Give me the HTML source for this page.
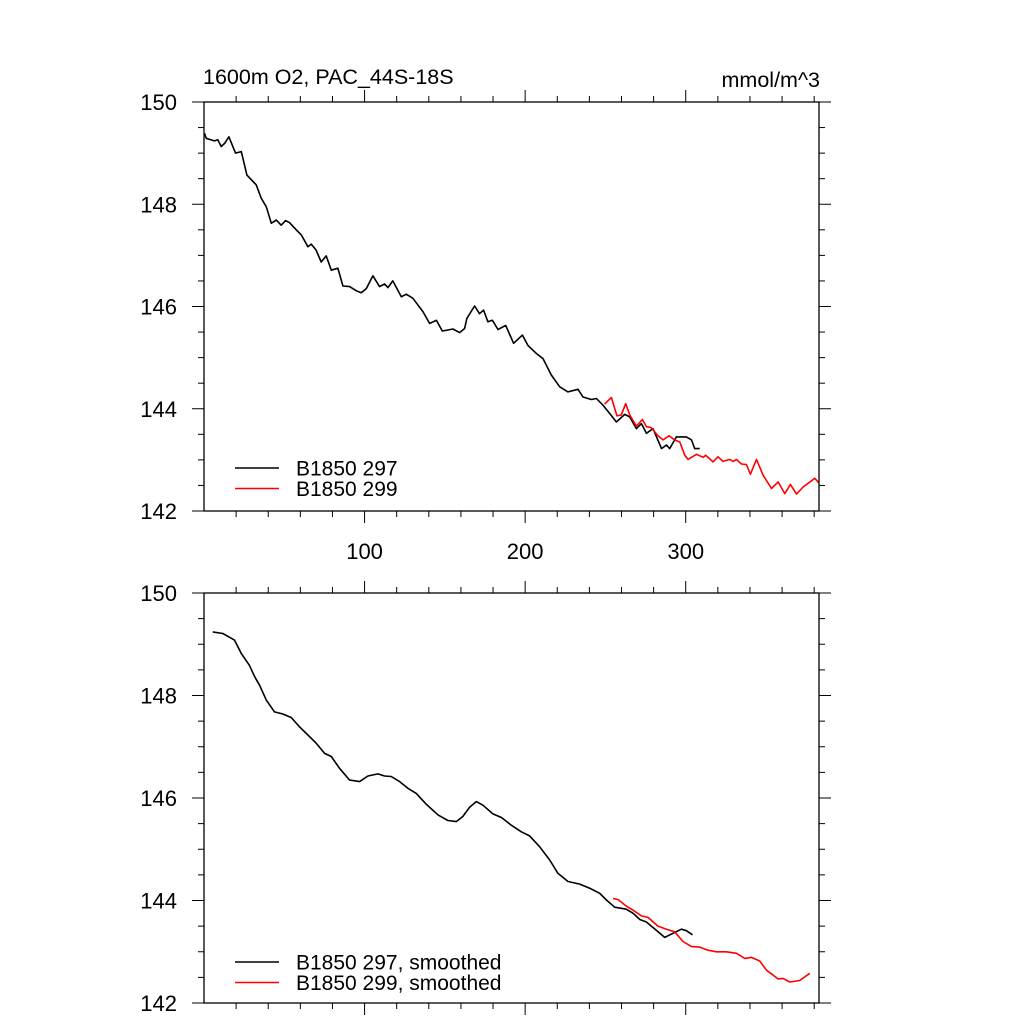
<!DOCTYPE html>
<html><head><meta charset="utf-8"><style>
html,body{margin:0;padding:0;background:#fff;}
svg{display:block;font-family:"Liberation Sans",Arial,sans-serif;}
</style></head><body>
<svg id="chart" width="1024" height="1024" xmlns="http://www.w3.org/2000/svg"></svg>
<script>
// ---- data ----
const rawYears297 = [0.3,1.4,6.5,8.6,10.7,12.8,15.5,19.6,23.2,26.7,32.5,35.6,38.8,41.9,45,48.1,50.8,53.3,57.4,60.6,64.7,66.8,69.9,73,76.1,79.3,83.4,86.5,90.7,94.8,97.9,101.1,105.2,109.3,112.5,114.5,117.6,122.9,126,130.1,136.3,140.5,144.7,148.4,151.9,155,159.2,162.3,163.7,168.5,171.6,174.1,176.8,179.6,183.1,187.9,192.8,198.3,201.7,207,211.1,216.3,221.5,226.7,232.9,236,241.2,244.4,248.5,252.6,256.8,262,265.1,269.3,272.4,275.5,279.6,284.9,288,290,294.2,300.4,303.6,305.6,308.7];
const rawVals297 = [149.39,149.29,149.24,149.26,149.13,149.19,149.32,149.0,149.03,148.57,148.38,148.12,147.95,147.63,147.69,147.59,147.68,147.64,147.5,147.4,147.17,147.22,147.1,146.87,146.99,146.71,146.75,146.4,146.39,146.31,146.27,146.35,146.6,146.39,146.44,146.37,146.5,146.19,146.24,146.16,145.9,145.67,145.73,145.52,145.54,145.56,145.49,145.57,145.77,146.01,145.86,145.93,145.7,145.73,145.55,145.63,145.28,145.44,145.24,145.08,144.98,144.66,144.43,144.33,144.38,144.23,144.18,144.2,144.07,143.91,143.74,143.89,143.84,143.61,143.71,143.52,143.61,143.22,143.29,143.22,143.45,143.45,143.39,143.22,143.22];
const rawYears299 = [249.5,253.7,257.2,259.9,262.6,265.1,269.3,273,275.5,278.6,282.7,285.9,289.6,293.1,296.3,299.4,301.4,306.7,310.8,312.5,317,320.1,323.2,327.4,329.5,331.6,334.7,337.8,340.3,344.1,348.2,353.4,357.5,361.7,365.2,369,373.1,380.4,383];
const rawVals299 = [144.09,144.22,143.86,143.88,144.1,143.88,143.66,143.79,143.65,143.63,143.47,143.39,143.47,143.39,143.35,143.09,143.01,143.11,143.05,143.09,142.96,143.06,142.97,143.01,142.97,143.01,142.92,142.91,142.72,143.01,142.7,142.44,142.57,142.34,142.52,142.33,142.47,142.64,142.55];
const smYears297 = [5.5,11.7,19,23.2,28.3,31.5,34.6,38.8,43.9,49.1,54.3,59.5,64.7,69.9,75.1,79.3,84.4,90.7,96.9,102.1,108.3,112.5,116.6,121.8,127,132.2,138.4,145.7,151.9,157.1,161.2,165.4,169.6,173.7,179.9,185.2,191.4,197.6,202.8,209,215.3,220.4,226.7,234,240.2,246.4,250.6,255.8,263,267.2,271.4,275.5,281.7,286.9,292.1,297.3,300.4,304.2];
const smVals297 = [149.24,149.21,149.08,148.82,148.59,148.37,148.2,147.91,147.68,147.64,147.57,147.39,147.23,147.07,146.87,146.81,146.58,146.35,146.32,146.43,146.47,146.43,146.42,146.32,146.19,146.09,145.88,145.67,145.56,145.54,145.64,145.82,145.93,145.86,145.69,145.62,145.47,145.34,145.26,145.05,144.79,144.53,144.37,144.32,144.24,144.14,144.01,143.87,143.83,143.75,143.63,143.58,143.42,143.28,143.36,143.44,143.41,143.33];
const smYears299 = [254.7,257.8,263,267.2,272.4,276.5,282.7,288,293.1,298.3,303.6,308.7,313.9,319.1,325.3,331.6,336.8,340.9,346.1,350.3,357.5,360.6,364.8,371,377.3];
const smVals299 = [144.04,144.02,143.89,143.81,143.7,143.67,143.5,143.44,143.39,143.2,143.1,143.09,143.03,143.0,143.0,142.97,142.87,142.89,142.82,142.64,142.47,142.48,142.41,142.44,142.58];
const yTicks = [142,144,146,148,150];
const xTickLabels = [100,200,300];

const NS="http://www.w3.org/2000/svg";
const svg=document.getElementById('chart');
const X0=204, X1=819, XMIN=0, XMAX=383, YMIN=142, YMAX=150;
function mk(tag,attrs,parent){const e=document.createElementNS(NS,tag);for(const k in attrs)e.setAttribute(k,attrs[k]);(parent||svg).appendChild(e);return e;}
function xs(v){return X0+(v-XMIN)/(XMAX-XMIN)*(X1-X0);}

function panel(name,top,bottom,showXLabels,series,legend,legY){
  const g=mk('g',{});
  
  
  const ys=v=>bottom-(v-YMIN)/(YMAX-YMIN)*(bottom-top);
  for(let v=20;v<XMAX;v+=20){
    const x=xs(v), maj=(v%100===0), L=maj?12:6;
    mk('line',{x1:x,x2:x,y1:bottom,y2:bottom+L,stroke:'#000','stroke-width':1},g);
    mk('line',{x1:x,x2:x,y1:top,y2:top-L,stroke:'#000','stroke-width':1},g);
  }
  for(let v=YMIN;v<=YMAX+1e-6;v+=0.5){
    const y=ys(v), maj=(Math.abs(v%2)<1e-6), L=maj?12:6;
    mk('line',{x1:X0,x2:X0-L,y1:y,y2:y,stroke:'#000','stroke-width':1},g);
    mk('line',{x1:X1,x2:X1+L,y1:y,y2:y,stroke:'#000','stroke-width':1},g);
  }
  yTicks.forEach(v=>{
    const t=mk('text',{x:177,y:ys(v)+8,'text-anchor':'end','font-size':22,fill:'#000'},g);
    
    
    t.textContent=v;
  });
  if(showXLabels){
    xTickLabels.forEach(v=>{
      const t=mk('text',{x:xs(v),y:bottom+48,'text-anchor':'middle','font-size':22,fill:'#000'},g);
      
      
      t.textContent=v;
    });
  }
  series.forEach(s=>{
    const d=s.x.map((v,i)=>(i?'L':'M')+xs(v).toFixed(1)+','+ys(s.y[i]).toFixed(1)).join(' ');
    const p=mk('path',{d:d,fill:'none',stroke:s.color,'stroke-width':1.6,'stroke-linejoin':'round'},g);
    
    
  });
  mk('rect',{x:X0,y:top,width:X1-X0,height:bottom-top,fill:'none',stroke:'#000','stroke-width':1.3},g);
  legend.forEach((l,i)=>{
    const y=legY+i*20.5;
    const ln=mk('line',{x1:235,x2:279,y1:y,y2:y,stroke:l.color,'stroke-width':1.6},g);
    
    
    const t=mk('text',{x:296,y:y+7.5,'font-size':21,fill:'#000'},g);
    
    
    t.textContent=l.label;
  });
}

panel('top-panel',102,511,true,
  [{x:rawYears297,y:rawVals297,color:'#000',name:'series-b1850-297'},
   {x:rawYears299,y:rawVals299,color:'#ff0000',name:'series-b1850-299'}],
  [{label:'B1850 297',color:'#000'},{label:'B1850 299',color:'#ff0000'}],468);
panel('bottom-panel',593,1003,false,
  [{x:smYears297,y:smVals297,color:'#000',name:'series-b1850-297-smoothed'},
   {x:smYears299,y:smVals299,color:'#ff0000',name:'series-b1850-299-smoothed'}],
  [{label:'B1850 297, smoothed',color:'#000'},{label:'B1850 299, smoothed',color:'#ff0000'}],962);

const t1=mk('text',{x:203,y:84,'font-size':21.5,fill:'#000'});


t1.textContent='1600m O2, PAC_44S-18S';
const t2=mk('text',{x:820,y:87,'font-size':21.5,fill:'#000','text-anchor':'end'});


t2.textContent='mmol/m^3';
</script>
</body></html>
